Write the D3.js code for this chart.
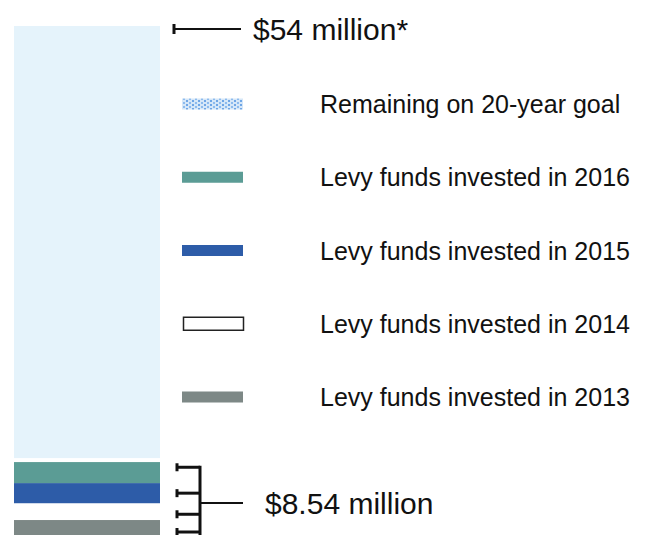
<!DOCTYPE html>
<html>
<head>
<meta charset="utf-8">
<script src="https://cdn.jsdelivr.net/npm/d3@7"></script>
<style>
	body { margin: 0; background: #fff; }
	text { font-family: "Liberation Sans", Arial, sans-serif; fill: #111; }
</style>
</head>
<body>
<script>
	// Data (millions of dollars)
	var segments = ["2013", "2014", "2015", "2016", "Remaining"];
	var segmentValues = [2.5, 1.75, 2.1, 2.19, 45.46];
	var segmentColors = ["#7d8886", "#ffffff", "#2d5ca8", "#5b9c95", "#e5f3fb"];
	var legendKeys = ["Remaining", "2016", "2015", "2014", "2013"];
	var legendLabels = ["Remaining on 20-year goal", "Levy funds invested in 2016",
		"Levy funds invested in 2015", "Levy funds invested in 2014", "Levy funds invested in 2013"];
	var goalTotal = 54;
	var levyTotal = 8.54;
	var bracketTicks = [8.0, 5.3, 3.1, 1.25];
	var topLabel = "$54 million*";
	var levyLabel = "$8.54 million";

	//Width and height
	var width = 650, height = 535;

	var svg = d3.select("body")
				.append("svg")
				.attr("width", width)
				.attr("height", height);

	// speckled pattern for the "remaining" legend swatch
	var pat = svg.append("defs").append("pattern")
		.attr("id", "speckle")
		.attr("width", 6).attr("height", 4)
		.attr("patternUnits", "userSpaceOnUse");
	pat.append("rect").attr("width", 6).attr("height", 4).attr("fill", "#d6e7f8");
	pat.append("rect").attr("x", 0).attr("y", 0).attr("width", 2).attr("height", 2).attr("fill", "#6fa6e6");
	pat.append("rect").attr("x", 3).attr("y", 2).attr("width", 2).attr("height", 2).attr("fill", "#8dbbee");

	// scales
	var yScale = d3.scaleLinear()
		.domain([0, goalTotal])
		.range([544, 26]);

	var xScale = d3.scaleBand()
		.domain(["levy"])
		.range([14, 160])
		.padding(0);

	// stacked bar
	var stacked = [];
	var running = 0;
	segments.forEach(function(s, i) {
		stacked.push({key: s, y0: running, y1: running + segmentValues[i], color: segmentColors[i]});
		running += segmentValues[i];
	});

	svg.selectAll("rect.seg")
		.data(stacked)
		.enter()
		.append("rect")
		.attr("class", "seg")
		.attr("x", xScale("levy"))
		.attr("width", xScale.bandwidth())
		.attr("y", function(d) { return yScale(d.y1); })
		.attr("height", function(d) {
			// small white gap under the "remaining" block
			var h = yScale(d.y0) - yScale(d.y1);
			return d.key == "Remaining" ? h - 4 : h;
		})
		.attr("fill", function(d) { return d.color; });

	// top marker: $54 million
	var topY = yScale(goalTotal) + 3;
	svg.append("line")
		.attr("x1", 173).attr("x2", 241)
		.attr("y1", topY).attr("y2", topY)
		.attr("stroke", "#111").attr("stroke-width", 2);
	svg.append("line")
		.attr("x1", 174).attr("x2", 174)
		.attr("y1", topY - 5).attr("y2", topY + 5)
		.attr("stroke", "#111").attr("stroke-width", 3);
	svg.append("text")
		.attr("x", 253).attr("y", topY)
		.attr("dy", "0.36em")
		.style("font-size", "30px")
		.text(topLabel);

	// bracket for levy funds
	var bx = 200;
	svg.append("line")
		.attr("x1", bx).attr("x2", bx)
		.attr("y1", yScale(bracketTicks[0]) - 1.5).attr("y2", height)
		.attr("stroke", "#111").attr("stroke-width", 3);
	svg.selectAll("line.btick")
		.data(bracketTicks)
		.enter()
		.append("line")
		.attr("class", "btick")
		.attr("x1", 176).attr("x2", bx)
		.attr("y1", function(d) { return yScale(d); })
		.attr("y2", function(d) { return yScale(d); })
		.attr("stroke", "#111").attr("stroke-width", 3);
	svg.selectAll("line.bserif")
		.data(bracketTicks)
		.enter()
		.append("line")
		.attr("class", "bserif")
		.attr("x1", 177).attr("x2", 177)
		.attr("y1", function(d) { return yScale(d) - 4; })
		.attr("y2", function(d) { return yScale(d) + 4; })
		.attr("stroke", "#111").attr("stroke-width", 3);

	var midY = yScale(levyTotal / 2);
	svg.append("line")
		.attr("x1", bx).attr("x2", 243)
		.attr("y1", midY).attr("y2", midY)
		.attr("stroke", "#111").attr("stroke-width", 2);
	svg.append("text")
		.attr("x", 265).attr("y", midY)
		.attr("dy", "0.36em")
		.style("font-size", "30px")
		.text(levyLabel);

	// legend
	var rowScale = d3.scalePoint()
		.domain(legendKeys)
		.range([104, 397]);

	var colorOf = {};
	segments.forEach(function(s, i) { colorOf[s] = segmentColors[i]; });

	var rows = svg.selectAll("g.legend")
		.data(legendKeys)
		.enter()
		.append("g")
		.attr("class", "legend")
		.attr("transform", function(d) { return "translate(0," + rowScale(d) + ")"; });

	rows.append("rect")
		.attr("x", function(d) { return d == "2014" ? 183.5 : 182; })
		.attr("y", function(d) { return d == "2014" ? -6.5 : -5.5; })
		.attr("width", function(d) { return d == "2014" ? 60 : 61; })
		.attr("height", function(d) { return d == "2014" ? 13 : 11; })
		.attr("fill", function(d) { return d == "Remaining" ? "url(#speckle)" : colorOf[d]; })
		.attr("stroke", function(d) { return d == "2014" ? "#222" : "none"; })
		.attr("stroke-width", 1.5);

	rows.append("text")
		.attr("x", 320)
		.attr("dy", "0.36em")
		.style("font-size", "25px")
		.text(function(d, i) { return legendLabels[i]; });
</script>
</body>
</html>
